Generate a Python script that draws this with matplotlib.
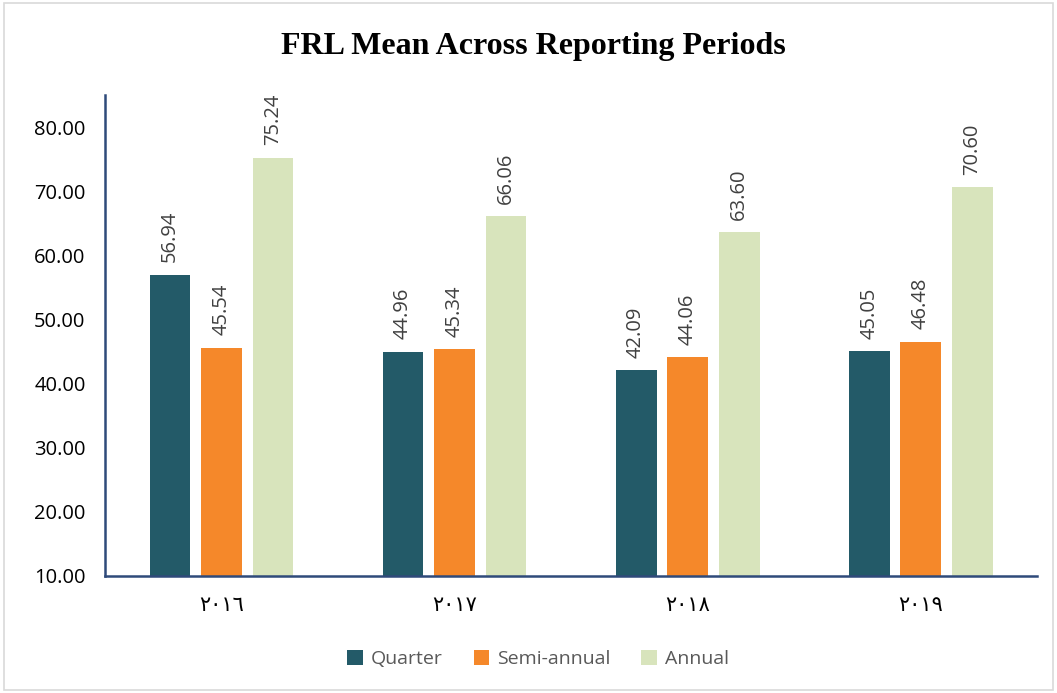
import numpy as np
import matplotlib.pyplot as plt
from matplotlib.patches import Rectangle

years = ["٢٠١٦", "٢٠١٧", "٢٠١٨", "٢٠١٩"]
series = ["Quarter", "Semi-annual", "Annual"]
quarter = [56.94, 44.96, 42.09, 45.05]
semi_annual = [45.54, 45.34, 44.06, 46.48]
annual = [75.24, 66.06, 63.60, 70.60]
yticks = [10, 20, 30, 40, 50, 60, 70, 80]

colors = ["#235A68", "#F5882A", "#D8E4BC"]
values = [quarter, semi_annual, annual]

fig = plt.figure(figsize=(10.57, 6.93), dpi=100)
ax = fig.add_axes([0.0993, 0.169, 0.882, 0.694])

x = np.arange(len(years))
width = 0.175
step = 0.221
for i, (name, vals, c) in enumerate(zip(series, values, colors)):
    pos = x + (i - 1) * step
    ax.bar(pos, np.array(vals) - 10, width, bottom=10, color=c, label=name)
    for xp, v in zip(pos, vals):
        ax.annotate(f"{v:.2f}", (xp, v), xytext=(0, 9), textcoords="offset points",
                    rotation=90, ha="center", va="bottom", fontsize=14.5,
                    color="#404040", family="Open Sans")

ax.set_xlim(-0.5, len(years) - 0.5)
ax.set_ylim(10, 85)
ax.set_yticks(yticks)
ax.set_yticklabels([f"{t:.2f}" for t in yticks], fontsize=14.5, family="Open Sans")
ax.set_xticks(x)
ax.set_xticklabels(years, fontsize=15, family="DejaVu Sans")
ax.tick_params(axis="both", length=0)
ax.tick_params(axis="x", pad=14)
ax.tick_params(axis="y", pad=14)
for s in ["top", "right"]:
    ax.spines[s].set_visible(False)
for s in ["left", "bottom"]:
    ax.spines[s].set_color("#2F4A7A")
    ax.spines[s].set_linewidth(1.8)

fig.text(0.505, 0.933, "FRL Mean Across Reporting Periods", ha="center", va="center",
         fontsize=23, fontweight="bold", family="Liberation Serif")

leg = fig.legend(loc="center", bbox_to_anchor=(0.509, 0.049), ncol=3, frameon=False,
                 prop={"family": "Open Sans", "size": 14}, handlelength=0.8,
                 handleheight=0.8, handletextpad=0.4, columnspacing=1.6)
for t in leg.get_texts():
    t.set_color("#595959")

fig.patches.append(Rectangle((0.004, 0.004), 0.992, 0.992, transform=fig.transFigure,
                             fill=False, edgecolor="#D9D9D9", linewidth=1.2))

fig.savefig("out.png", dpi=100)
